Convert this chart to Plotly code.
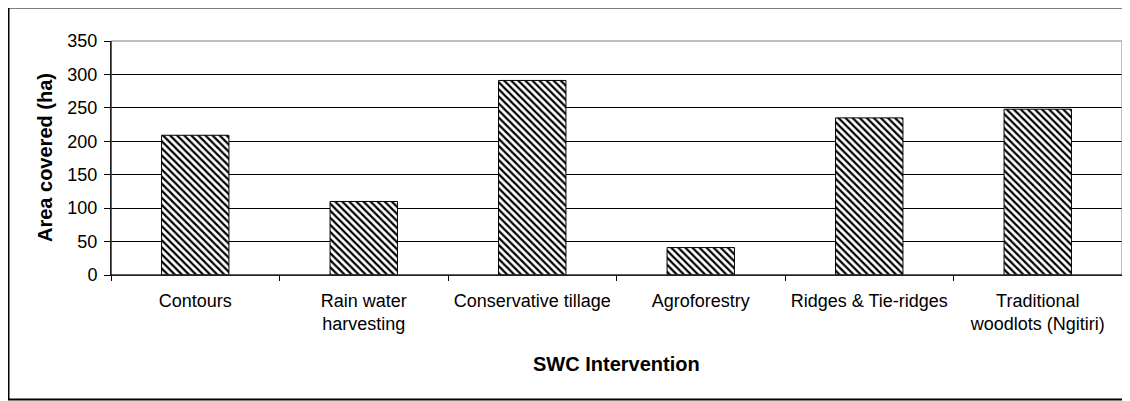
import plotly.graph_objects as go

categories = ["Contours", "Rain water<br>harvesting", "Conservative tillage", "Agroforestry",
              "Ridges & Tie-ridges", "Traditional<br>woodlots (Ngitiri)"]
area_ha = [209, 110, 291, 41, 235, 248]
y_ticks = [0, 50, 100, 150, 200, 250, 300, 350]

W, H = 1130, 401
L, R, T, B = 103, 16, 33, 134
pw, ph = W - L - R, H - T - B

def px_x(x):
    return (x - L) / pw

def px_y(y):
    return (H - B - y) / ph

FONT = "Liberation Sans, Arial, sans-serif"

fig = go.Figure(go.Bar(
    x=categories, y=area_ha,
    marker=dict(color="black",
                line=dict(color="black", width=1),
                pattern=dict(shape="\\", fgcolor="black", bgcolor="white",
                             size=5, solidity=0.45, fillmode="replace")),
))

fig.update_layout(
    width=W, height=H,
    margin=dict(l=L, r=R, t=T, b=B, pad=0),
    paper_bgcolor="white", plot_bgcolor="white",
    bargap=0.6, showlegend=False,
    font=dict(family=FONT, size=18, color="black"),
    xaxis=dict(type="category", showgrid=False, showline=True, linecolor="black", linewidth=1,
               ticks="outside", tickson="boundaries", ticklen=5, tickcolor="black",
               tickfont=dict(size=18), ticklabelstandoff=9),
    yaxis=dict(range=[0, 350], tickvals=y_ticks, showgrid=True, gridcolor="black", gridwidth=1,
               showline=True, linecolor="black", linewidth=1, zeroline=False,
               ticks="outside", ticklen=6, tickcolor="black", tickfont=dict(size=18),
               ticklabelstandoff=3),
    shapes=[
        dict(type="rect", xref="paper", yref="paper", x0=0, x1=1, y0=0, y1=1,
             line=dict(color="#808080", width=1), layer="above"),
        dict(type="line", xref="paper", yref="paper", x0=0, x1=0, y0=0, y1=1,
             line=dict(color="black", width=1), layer="above"),
        dict(type="line", xref="paper", yref="paper", x0=0, x1=1, y0=0, y1=0,
             line=dict(color="black", width=1), layer="above"),
        dict(type="rect", xref="paper", yref="paper",
             x0=px_x(0.5), x1=px_x(1140), y0=px_y(391.5), y1=px_y(-0.5),
             line=dict(color="black", width=2), layer="above"),
    ],
    annotations=[
        dict(text="<b>Area covered (ha)</b>", xref="paper", yref="paper",
             x=px_x(37), y=0.5, textangle=-90, showarrow=False,
             font=dict(size=20), xanchor="center", yanchor="middle"),
        dict(text="<b>SWC Intervention</b>", xref="paper", yref="paper",
             x=0.5, y=px_y(356), showarrow=False,
             font=dict(size=20), xanchor="center", yanchor="middle"),
    ],
)

fig.write_html("out.html")
